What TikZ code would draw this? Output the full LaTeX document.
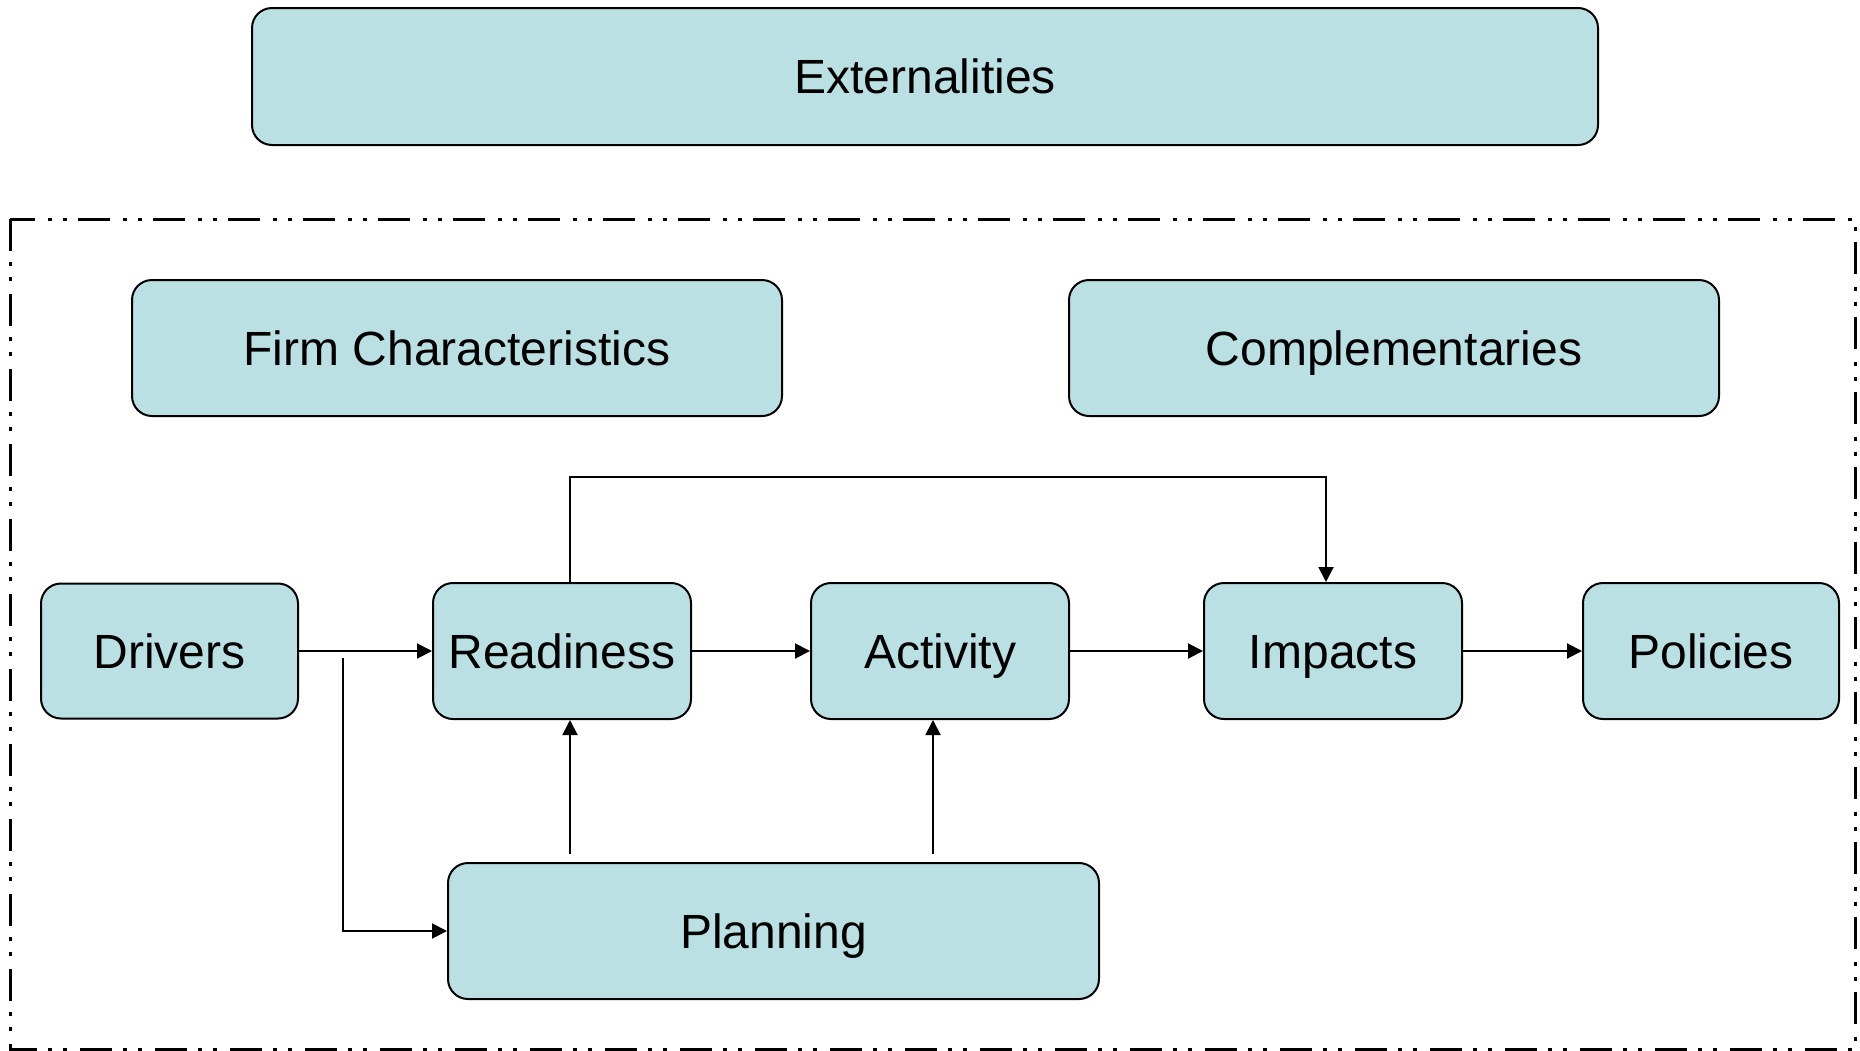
\documentclass[tikz,border=0pt]{standalone}
\usepackage{fontspec}
\setmainfont{Liberation Sans}
\usetikzlibrary{arrows.meta,calc}
\definecolor{boxfill}{HTML}{BBE0E3}
\tikzset{
  box/.style={draw=black, line width=2pt, fill=boxfill, rounded corners=20pt,
    inner sep=0pt, anchor=center, text height=34pt, text depth=0pt,
    font=\fontsize{48}{57}\selectfont},
  arr/.style={line width=2pt, -{Triangle[length=15pt,width=15pt]}},
  frame/.style={line width=3pt, dash pattern=on 32pt off 11pt on 4pt off 11pt on 4pt off 13pt}
}
\begin{document}
\begin{tikzpicture}[x=1pt,y=-1pt]
\useasboundingbox (0,0) rectangle (1860,1050);
\draw[frame] (10,219) rectangle (1855,1049);
\node[box, minimum width=1346pt, minimum height=137pt] (ext) at (925,76.5) {Externalities};
\node[box, minimum width=650pt, minimum height=136pt] (firm) at (457,348) {Firm Characteristics};
\node[box, minimum width=650pt, minimum height=136pt] (comp) at (1394,348) {Complementaries};
\node[box, minimum width=257pt, minimum height=135pt] (drv) at (169.5,651) {Drivers};
\node[box, minimum width=258pt, minimum height=136pt] (read) at (562,651) {Readiness};
\node[box, minimum width=258pt, minimum height=136pt] (act) at (940,651) {Activity};
\node[box, minimum width=258pt, minimum height=136pt] (imp) at (1333,651) {Impacts};
\node[box, minimum width=256pt, minimum height=136pt] (pol) at (1711,651) {Policies};
\node[box, minimum width=651pt, minimum height=136pt] (plan) at (773.5,931) {Planning};
\coordinate (dp) at (343,658);
\coordinate (rx) at (570,0);
\coordinate (ax) at (933,0);
\coordinate (ix) at (1326,0);
\coordinate (top) at (0,477);
\draw[arr] (drv.east) -- (read.west);
\draw[arr] (read.east) -- (act.west);
\draw[arr] (act.east) -- (imp.west);
\draw[arr] (imp.east) -- (pol.west);
\draw[arr] (dp) |- (plan.west);
\draw[arr, shorten <=8pt] (plan.north -| rx) -- (read.south -| rx);
\draw[arr, shorten <=8pt] (plan.north -| ax) -- (act.south -| ax);
\draw[arr] (read.north -| rx) -- (top -| rx) -- (top -| ix) -- (imp.north -| ix);
\end{tikzpicture}
\end{document}
